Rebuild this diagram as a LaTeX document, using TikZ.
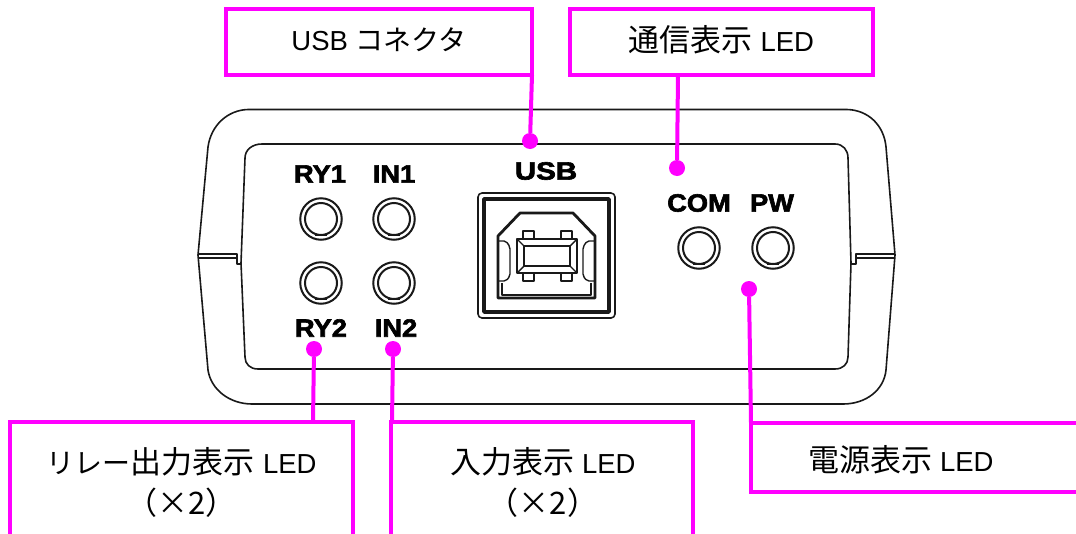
\documentclass[tikz,border=0pt]{standalone}
\usepackage{fontspec}
\usepackage{graphicx}
\setmainfont{Liberation Sans}
\newfontfamily\cjk{Noto Sans CJK JP}
\newfontfamily\heavy[BoldFeatures={FakeBold=2.4}]{Liberation Sans}
\definecolor{mag}{RGB}{255,0,255}
\definecolor{ink}{RGB}{25,25,25}
\newcommand{\han}{\cjk\fontsize{31}{36}\selectfont}
\newcommand{\kan}{\cjk\fontsize{28}{36}\selectfont}
\newcommand{\lat}{\rmfamily\fontsize{27.5}{36}\selectfont}
\newcommand{\wide}[1]{\scalebox{1.09}[1]{#1}}
\tikzset{
  x=1pt,y=-1pt,
  callout/.style={draw=mag,line width=4pt,fill=white,inner sep=0pt,outer sep=0pt,anchor=north west},
  lead/.style={draw=mag,line width=4pt},
  dot/.style={circle,fill=mag,inner sep=0pt,minimum size=16pt},
  captext/.style={font=\fontsize{28}{36}\selectfont,inner sep=0pt,align=center,text=black},
  panel/.style={font=\heavy\bfseries\fontsize{25}{25}\selectfont,inner sep=0pt,text=black},
  body/.style={draw=ink,line width=1.6pt,line join=round},
  ledo/.style={draw=ink,line width=2pt,circle,inner sep=0pt,minimum size=41.5pt},
  ledi/.style={draw=ink,line width=2pt,circle,inner sep=0pt,minimum size=32pt},
  usbt/.style={draw=ink,line width=1.4pt,line join=round},
}
\newcommand{\ledpair}[3]{%
  \node[ledo] (#1o) at (#2,#3) {};
  \node[ledi] (#1i) at (#2,#3) {};
  \draw[usbt,line width=1pt] (#2-6,#3+16) -- (#2+6,#3+16);
}
\begin{document}
\begin{tikzpicture}
\useasboundingbox (0,0) rectangle (1076,533);
\clip (0,0) rectangle (1076,533);
\fill[white] (0,0) rectangle (1076,533);
% enclosure
\draw[body] (198,255) -- (208,147) .. controls (211,125) and (228,110) .. (248,109.5)
  -- (847,109.5) .. controls (868,110) and (884,125) .. (886,147) -- (895,255)
  -- (886,370) .. controls (884,390) and (866,404) .. (843,404)
  -- (252,404) .. controls (230,404) and (211,390) .. (208,370) -- cycle;
\draw[body] (262,144) -- (835,144) .. controls (843,144) and (848,150) .. (848,158)
  -- (851,263) -- (848,357) .. controls (848,364) and (843,369) .. (835,369)
  -- (258,369) .. controls (250,369) and (245,364) .. (245,357)
  -- (241,263) -- (245,158) .. controls (245,150) and (252,144) .. (262,144) -- cycle;
\draw[body] (198,254) -- (237,254) -- (237,264) -- (241,264);
\draw[body] (198,258) -- (237,258);
\draw[body] (895,254) -- (856,254) -- (856,264) -- (851,264);
\draw[body] (895,258) -- (856,258);
% LEDs
\ledpair{ryone}{321}{219}
\ledpair{inone}{394}{219}
\ledpair{rytwo}{321}{283}
\ledpair{intwo}{394}{283}
\ledpair{com}{699}{248}
\ledpair{pw}{773}{248}
% panel labels
\node[panel] (lry1) at (320,174) {\wide{RY1}};
\node[panel] (lin1) at (394,174) {\wide{IN1}};
\node[panel] (lry2) at (321,328) {\wide{RY2}};
\node[panel] (lin2) at (396,328) {\wide{IN2}};
\node[panel] (lusb) at (546,171) {\scalebox{1.18}[1]{USB}};
\node[panel] (lcom) at (699,203) {\wide{COM}};
\node[panel] (lpw)  at (772,203) {\wide{PW}};
% USB socket
\draw[usbt,line width=1.6pt,rounded corners=4pt] (478,193) rectangle (615,318);
\draw[usbt,line width=3.4pt] (484,199) rectangle (609,312);
\draw[usbt,line width=2.8pt] (498,236) -- (520,213) -- (573,213) -- (595,236) -- (595,298) -- (498,298) -- cycle;
\draw[usbt,line width=1.4pt] (502,283) -- (502,295) -- (591,295) -- (591,283);
\draw[usbt,rounded corners=2pt] (498,241) -- (506,241) -- (510,247) -- (510,276) -- (506,281) -- (498,281);
\draw[usbt,rounded corners=2pt] (595,241) -- (587,241) -- (583,247) -- (583,276) -- (587,281) -- (595,281);
\draw[usbt,line width=2.2pt] (517,239) rectangle (577,273);
\draw[usbt] (524,246) rectangle (570,266);
\draw[usbt] (517,239) -- (524,246) (577,239) -- (570,246) (517,273) -- (524,266) (577,273) -- (570,266);
\draw[usbt] (523,231) rectangle (534,239) (561,231) rectangle (572,239)
            (523,273) rectangle (534,281) (561,273) rectangle (572,281);
% callout boxes
\node[callout,minimum width=306pt,minimum height=66.5pt] (busb) at (226,8.5) {};
\node[callout,minimum width=303pt,minimum height=66.5pt] (bcom) at (570,8.5) {};
\node[callout,minimum width=343pt,minimum height=140pt] (bry) at (10,422) {};
\node[callout,minimum width=302pt,minimum height=140pt] (bin) at (391,422) {};
\node[callout,minimum width=360pt,minimum height=69pt] (bpw) at (751,423) {};
\node[captext] (tusb) at (379,40) {\lat USB \kan コネクタ};
\node[captext] (tcom) at (721.5,40) {\han 通信表示\lat\ LED};
\node[captext] (try) at (181.5,482) {\kan リレー\han 出力表示\lat\hspace{1pt} LED\\[5pt]\han （×2）};
\node[captext] (tin) at (543,482) {\han 入力表示\lat\ LED\\[5pt]\han （×2）};
\node[captext] (tpw) at (901,460) {\han 電源表示\lat\ LED};
% leaders
\node[dot] (dusb) at (530,141) {};
\node[dot] (dcom) at (677,168) {};
\node[dot] (dry) at (314,349) {};
\node[dot] (din) at (393,349) {};
\node[dot] (dpw) at (749,289) {};
\coordinate (eusb) at (532,75);
\coordinate (ecom) at (678,75);
\coordinate (ery) at (313,422);
\coordinate (ein) at (392,422);
\coordinate (epw) at (751,423);
\draw[lead] (dusb) -- (eusb);
\draw[lead] (dcom) -- (ecom);
\draw[lead] (dry) -- (ery);
\draw[lead] (din) -- (ein);
\draw[lead] (dpw) -- (epw);
\end{tikzpicture}
\end{document}
